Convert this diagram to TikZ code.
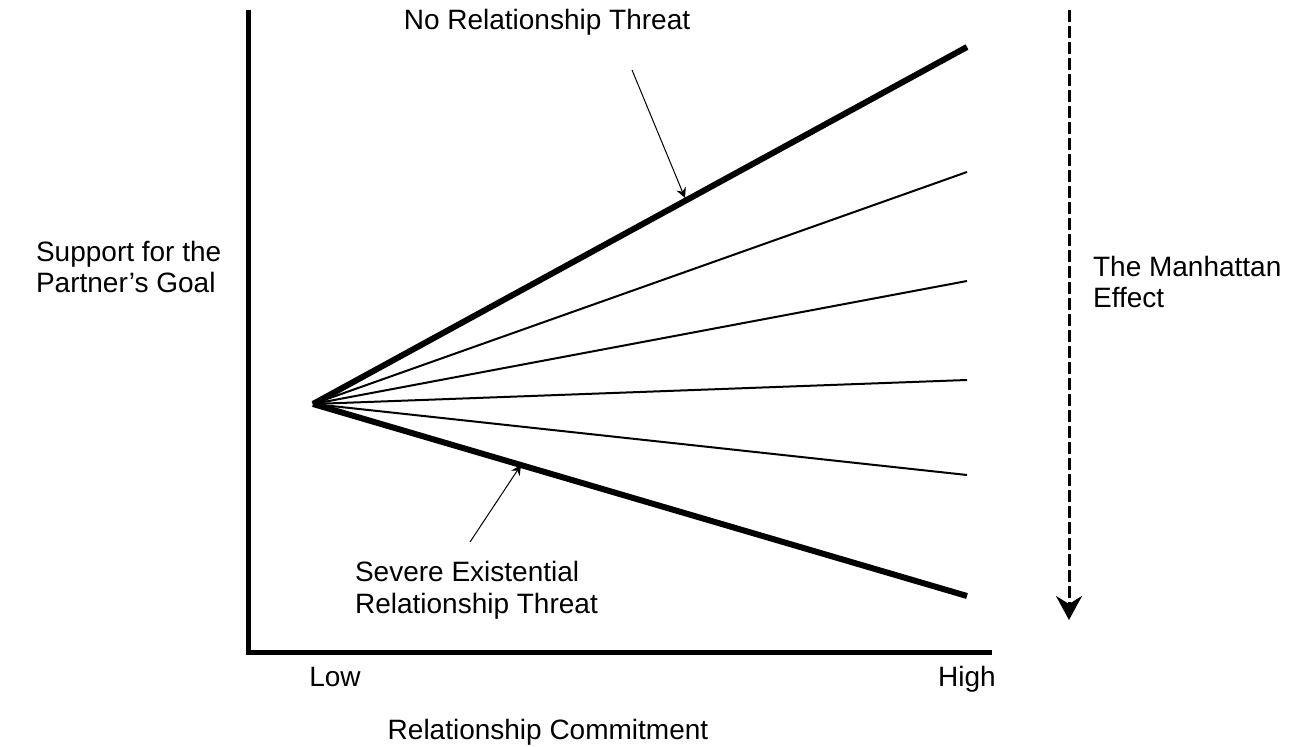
\documentclass[tikz,border=0pt]{standalone}
\usepackage{fontspec}
\setmainfont{Liberation Sans}
\usetikzlibrary{arrows.meta,positioning}

\begin{document}
\begin{tikzpicture}[x=0.5pt,y=-0.5pt,
    every node/.style={font=\fontsize{14}{15.8}\selectfont},
    label text/.style={align=left},
    thickline/.style={line width=3pt},
    thinline/.style={line width=1pt},
    pointer/.style={line width=0.5pt,-{Stealth[length=5pt,width=5pt]}}]
    \useasboundingbox (0,0) rectangle (1302,747);

    % axes
    \coordinate (top) at (248,10);
    \coordinate (corner) at (248,653);
    \coordinate (right) at (992,653);
    \draw[line width=2.5pt,line join=miter] (top) -- (corner) -- (right);

    % fan of lines
    \coordinate (O) at (313,404);
    \coordinate (hi) at (967,47);
    \coordinate (lo) at (967,596);
    \draw[thickline] (O) -- (hi);
    \draw[thickline] (O) -- (lo);
    \foreach \y in {172,281,380,475}
        \draw[thinline] (O) -- (967,\y);

    % labels
    \node[label text] (none) at (547,22) {No Relationship Threat};
    \node[label text,anchor=west] (severe) at (348,590) {Severe Existential\\Relationship Threat};
    \node[label text,anchor=west] (support) at (29,267) {Support for the\\Partner's Goal};
    \node[label text,anchor=west] (manhattan) at (1086,282) {The Manhattan\\Effect};
    \node[anchor=base] (low) at (335,687) {Low};
    \node[anchor=base] (high) at (967,687) {High};
    \node (commit) at (548,732) {Relationship Commitment};

    % pointers
    \coordinate (p1) at (632,70);
    \coordinate (q1) at (685,198);
    \draw[pointer] (p1) -- (q1);
    \coordinate (p2) at (470,542);
    \coordinate (q2) at (521,465);
    \draw[pointer] (p2) -- (q2);

    % manhattan effect
    \coordinate (ms) at (1069,10);
    \coordinate (me) at (1069,620);
    \draw[line width=1.5pt,dash pattern=on 6pt off 2pt,-{Stealth[length=12pt,width=13pt,inset=4pt]}] (ms) -- (me);
\end{tikzpicture}
\end{document}
